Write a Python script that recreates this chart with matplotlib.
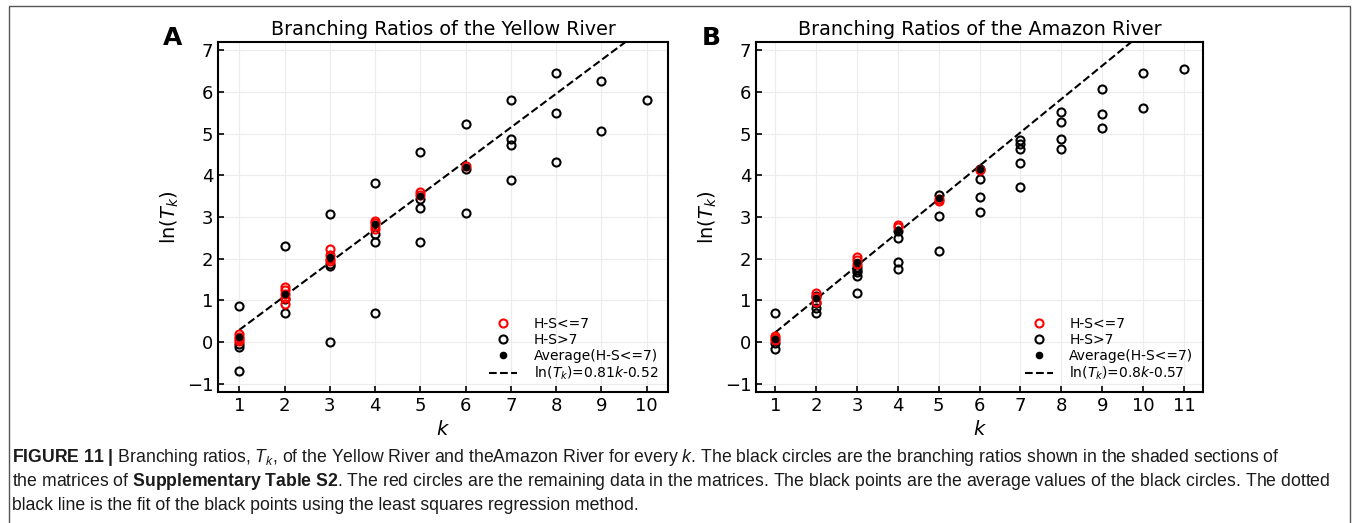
import matplotlib
matplotlib.use("Agg")
import matplotlib.pyplot as plt
from matplotlib.patches import Rectangle

plt.rcParams['font.family'] = 'DejaVu Sans'
plt.rcParams['mathtext.fontset'] = 'dejavusans'
plt.rcParams['mathtext.rm'] = 'Liberation Sans'
plt.rcParams['mathtext.it'] = 'Liberation Sans:italic'
plt.rcParams['mathtext.bf'] = 'Liberation Sans:bold'

# Yellow River
yr_red_k = [1, 1, 1, 1, 2, 2, 2, 2, 2, 3, 3, 3, 3, 4, 4, 4, 4, 5, 5, 6]
yr_red_v = [0.18, 0.13, 0.08, 0.02, 1.33, 1.25, 1.15, 1.05, 0.92,
            2.22, 2.08, 2.00, 1.95, 2.91, 2.85, 2.78, 2.70, 3.59, 3.52, 4.22]
yr_blk_k = [1, 1, 1, 1, 2, 2, 2, 3, 3, 3, 3, 4, 4, 4, 4, 5, 5, 5, 5,
            6, 6, 6, 7, 7, 7, 7, 8, 8, 8, 9, 9, 10]
yr_blk_v = [0.87, -0.11, -0.70, -0.05, 2.31, 1.02, 0.69, 3.06, 1.88, 1.82, 0.0,
            3.81, 2.59, 2.39, 0.69, 4.57, 3.44, 3.21, 2.39,
            5.24, 4.14, 3.09, 5.80, 4.86, 4.72, 3.89, 6.46, 5.50, 4.33,
            6.27, 5.06, 5.80]
yr_avg_k = [1, 2, 3, 4, 5, 6]
yr_avg_v = [0.12, 1.14, 2.04, 2.82, 3.50, 4.20]
yr_fit = (0.81, -0.52)

# Amazon River
am_red_k = [1, 1, 1, 2, 2, 2, 3, 3, 3, 4, 4, 5, 5, 6]
am_red_v = [0.15, 0.10, 0.05, 1.17, 1.09, 0.97, 2.03, 1.97, 1.87,
            2.81, 2.76, 3.42, 3.38, 4.12]
am_blk_k = [1, 1, 1, 2, 2, 2, 2, 3, 3, 3, 3, 3, 4, 4, 4, 4, 5, 5, 5,
            6, 6, 6, 6, 7, 7, 7, 7, 7, 8, 8, 8, 8, 9, 9, 9, 10, 10, 11]
am_blk_v = [0.69, -0.16, -0.03, 1.10, 0.93, 0.81, 0.69,
            1.81, 1.73, 1.67, 1.59, 1.17, 2.67, 2.49, 1.93, 1.74,
            3.53, 3.03, 2.19, 4.16, 3.90, 3.49, 3.13,
            4.84, 4.75, 4.62, 4.29, 3.73, 5.51, 5.28, 4.86, 4.62,
            6.06, 5.47, 5.14, 6.46, 5.62, 6.54]
am_avg_k = [1, 2, 3, 4, 5, 6]
am_avg_v = [0.07, 1.05, 1.93, 2.68, 3.45, 4.14]
am_fit = (0.8, -0.57)

panels = [
    ('Branching Ratios of the Yellow River', 'A', yr_red_k, yr_red_v, yr_blk_k, yr_blk_v,
     yr_avg_k, yr_avg_v, yr_fit, 10, r'ln($T_k$)=0.81$k$-0.52'),
    ('Branching Ratios of the Amazon River', 'B', am_red_k, am_red_v, am_blk_k, am_blk_v,
     am_avg_k, am_avg_v, am_fit, 11, r'ln($T_k$)=0.8$k$-0.57'),
]

fig = plt.figure(figsize=(13.55, 5.23), dpi=100)
rects = [[0.1609, 0.2505, 0.3321, 0.6692], [0.558, 0.2505, 0.3299, 0.6692]]

for rect, (title, lab, rk, rv, bk, bv, ak, av, fit, kmax, fitlab) in zip(rects, panels):
    ax = fig.add_axes(rect)
    ax.plot(bk, bv, 'o', mfc='none', mec='black', ms=5.8, mew=1.5, label='H-S>7', zorder=3)
    ax.plot(rk, rv, 'o', mfc='none', mec='red', ms=5.8, mew=1.5, label='H-S<=7', zorder=4)
    ax.plot(ak, av, 'o', color='black', ms=4.5, label='Average(H-S<=7)', zorder=5)
    ax.plot([1, kmax], [fit[0] * 1 + fit[1], fit[0] * kmax + fit[1]], '--', color='black',
            lw=1.5, label=fitlab, zorder=2)
    ax.set_xlim(0.53, kmax + 0.47)
    ax.set_ylim(-1.2, 7.2)
    ax.set_xticks(range(1, kmax + 1))
    ax.set_yticks(range(-1, 8))
    ax.grid(True, color='#ececec', lw=0.8)
    ax.set_axisbelow(True)
    ax.tick_params(direction='in', labelsize=13, length=4, width=1.2)
    for s in ax.spines.values():
        s.set_linewidth(1.5)
    ax.set_title(title, fontsize=13.8, pad=5)
    ax.set_xlabel(r'$k$', fontsize=14, math_fontfamily='dejavusans')
    ax.set_ylabel(r'ln($T_k$)', fontsize=14, math_fontfamily='dejavusans')
    h, l = ax.get_legend_handles_labels()
    order = [1, 0, 2, 3]
    ax.legend([h[i] for i in order], [l[i] for i in order], loc='lower right',
              frameon=False, fontsize=10, handletextpad=1.2, labelspacing=0.15,
              borderaxespad=0.3)
    ax.text(-0.10, 1.01, lab, transform=ax.transAxes, fontsize=18, fontweight='bold',
            ha='center', va='center')

# figure frame
fig.add_artist(Rectangle((9 / 1355, -0.1), 1341 / 1355, 1.1 - 6 / 523,
                         transform=fig.transFigure, fill=False, ec='#555555', lw=1))

cap_lines = [
    r'$\mathbf{FIGURE\ 11\ |}$ Branching ratios, $T_k$, of the Yellow River and theAmazon River for every $k$. The black circles are the branching ratios shown in the shaded sections of',
    r'the matrices of $\mathbf{Supplementary\ Table\ S2}$. The red circles are the remaining data in the matrices. The black points are the average values of the black circles. The dotted',
    r'black line is the fit of the black points using the least squares regression method.',
]
for i, line in enumerate(cap_lines):
    fig.text(12 / 1355, 1 - (457 + 24 * i) / 523, line, family='Liberation Sans', fontsize=12.7,
             va='center', ha='left', color='#1a1a1a', math_fontfamily='custom')

fig.savefig('out.png', dpi=100)
